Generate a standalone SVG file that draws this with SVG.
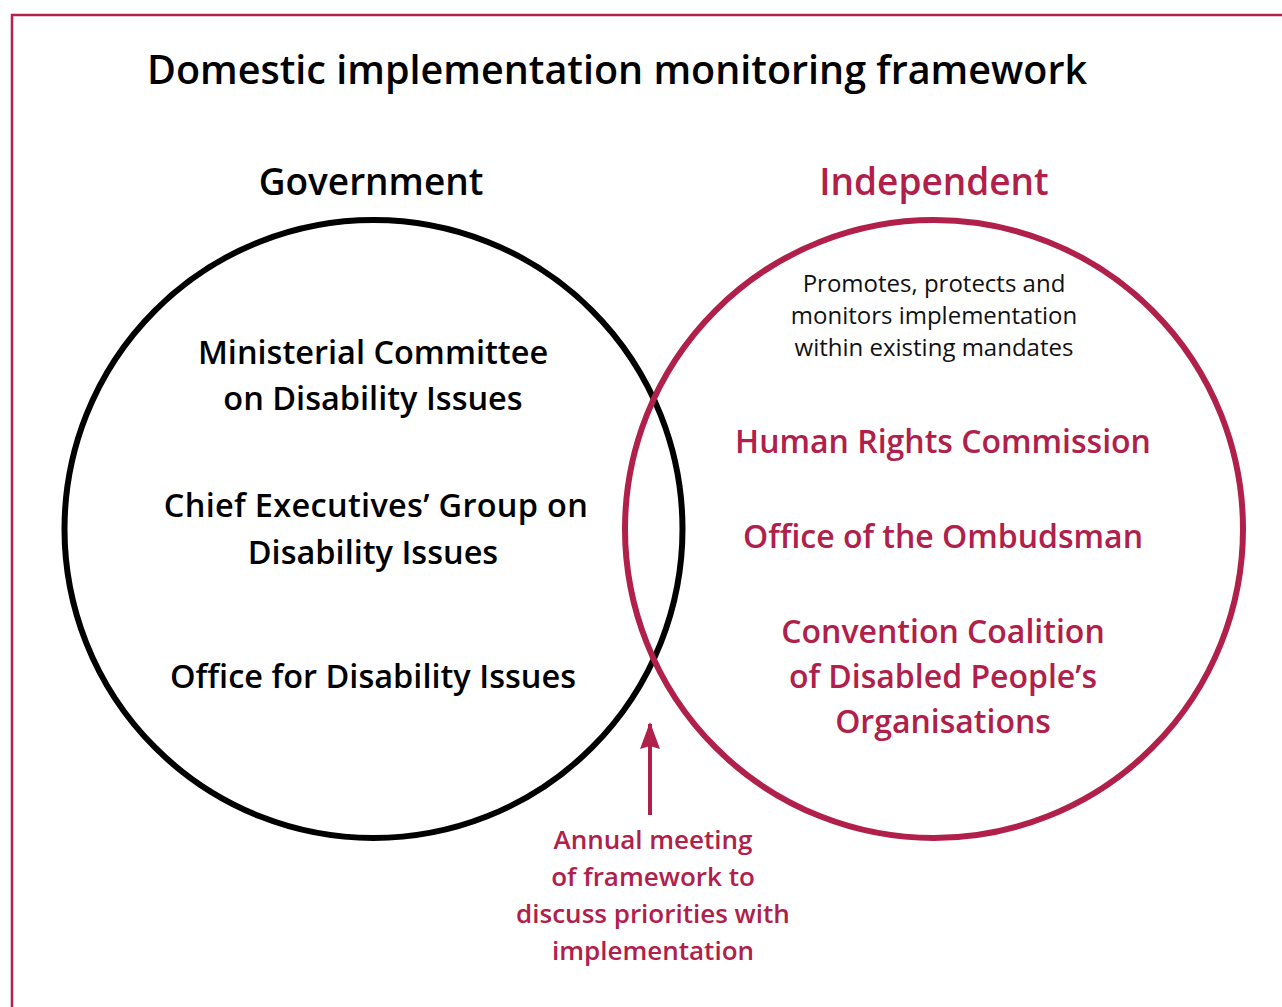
<svg xmlns="http://www.w3.org/2000/svg" width="1282" height="1007" viewBox="0 0 1282 1007">
<defs>
<style>
text{font-family:"Open Sans","Noto Sans","Liberation Sans",sans-serif;text-anchor:middle}
.title{font-size:39.5px;font-weight:600;fill:#000}
.head{font-size:37px;font-weight:600}
.blk{font-size:32.5px;font-weight:600;fill:#000}
.red{font-size:32px;font-weight:600;fill:#B0204A}
.small{font-size:24px;font-weight:400;fill:#111}
.note{font-size:26px;font-weight:600;fill:#B0204A}
</style>
<marker id="ah" viewBox="0 0 27 20" refX="25" refY="10" markerWidth="27" markerHeight="20" markerUnits="userSpaceOnUse" orient="auto">
<path d="M0,0 L27,10 L0,20 L3,10 z" fill="#B0204A"/>
</marker>
</defs>
<rect width="1282" height="1007" fill="#fff"/>
<path d="M12,1007 V15 H1282" fill="none" stroke="#B5224A" stroke-width="2.5"/>
<text class="title" x="617" y="84">Domestic implementation monitoring framework</text>
<g id="government">
<text class="head" x="371" y="195" fill="#000">Government</text>
<circle cx="373.5" cy="529" r="309" fill="none" stroke="#000" stroke-width="6"/>
<text class="blk" x="373" y="364">Ministerial Committee</text>
<text class="blk" x="373" y="410">on Disability Issues</text>
<text class="blk" x="376" y="517" letter-spacing="0.3">Chief Executives’ Group on</text>
<text class="blk" x="373" y="564">Disability Issues</text>
<text class="blk" x="373" y="688">Office for Disability Issues</text>
</g>
<g id="independent">
<text class="head" x="934" y="195" fill="#B0204A">Independent</text>
<circle cx="934" cy="529" r="309" fill="none" stroke="#B0204A" stroke-width="6"/>
<text class="small" x="934" y="292">Promotes, protects and</text>
<text class="small" x="934" y="324">monitors implementation</text>
<text class="small" x="934" y="356">within existing mandates</text>
<text class="red" x="943" y="453">Human Rights Commission</text>
<text class="red" x="943" y="548">Office of the Ombudsman</text>
<text class="red" x="943" y="643">Convention Coalition</text>
<text class="red" x="943" y="688">of Disabled People’s</text>
<text class="red" x="943" y="733">Organisations</text>
</g>
<g id="annual-meeting">
<text class="note" x="653" y="849">Annual meeting</text>
<text class="note" x="653" y="886">of framework to</text>
<text class="note" x="653" y="923">discuss priorities with</text>
<text class="note" x="653" y="960">implementation</text>
</g>
<g id="connectors">
<line x1="650" y1="815" x2="650" y2="724" stroke="#B0204A" stroke-width="4" marker-end="url(#ah)"/>
</g>
</svg>
